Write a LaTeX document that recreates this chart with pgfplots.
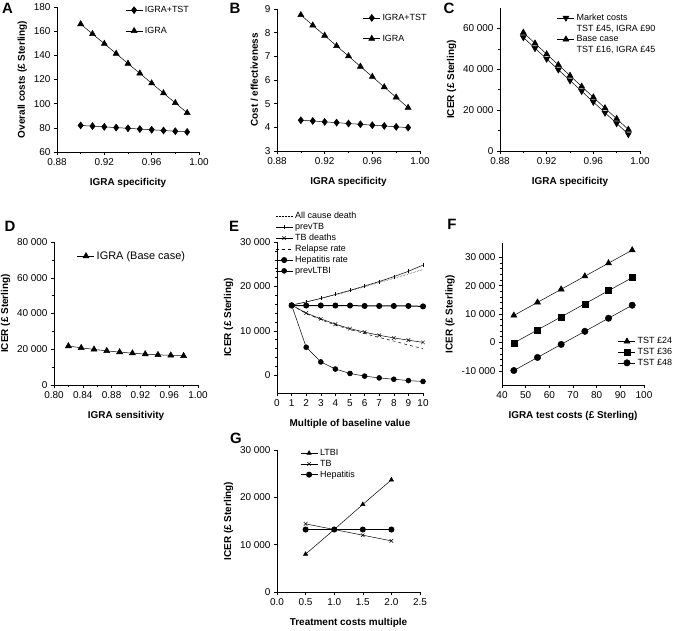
\documentclass[border=0pt]{standalone}
\usepackage{fontspec}
\setmainfont{Liberation Sans}
\usepackage{pgfplots}
\pgfplotsset{compat=1.18}

\newcommand{\tf}{\fontsize{10}{12}\selectfont}
\newcommand{\lf}{\fontsize{10}{12}\selectfont\bfseries}
\newcommand{\gf}{\fontsize{9}{10}\selectfont}
\newcommand{\pf}{\fontsize{15}{15}\selectfont\bfseries}

\pgfplotsset{
  panel/.style={
    scale only axis, anchor=south west,
    axis x line*=bottom, axis y line*=left,
    axis line style={-, line width=0.5pt},
    tick align=outside, tick style={black, line width=0.5pt},
    major tick length=3bp, minor tick length=2bp,
    tick label style={font=\tf}, label style={font=\lf},
    scaled ticks=false,
    /pgf/number format/assume math mode=true,
    /pgf/number format/1000 sep={\ },
    legend style={draw=none, fill=none, font=\gf, inner sep=0pt},
    legend cell align=left,
    clip=false,
    every axis plot/.append style={black, line width=0.5pt},
    xlabel style={yshift=-6bp},
  },
  spec/.style={xmin=0.88, xmax=1.0, xtick={0.88,0.92,0.96,1.00}, minor x tick num=1,
    x tick label style={/pgf/number format/fixed, /pgf/number format/fixed zerofill, /pgf/number format/precision=2},
    xlabel={IGRA specificity}},
}

\begin{document}
\begin{tikzpicture}
\useasboundingbox (0,0) rectangle (677bp,-631bp);

% A
\begin{axis}[panel, spec, at={(57bp,-152bp)}, width=142bp, height=145bp,
  ymin=60, ymax=180, ytick={60,80,...,180},
  ylabel={Overall costs (£ Sterling)},
  legend style={at={(0.48,1.02)}, anchor=north west, row sep=9bp}]
\addplot[mark=diamond*, mark size=3.5bp] coordinates {
 (0.90,82.0) (0.91,81.4) (0.92,80.8) (0.93,80.2) (0.94,79.6) (0.95,79.0) (0.96,78.4) (0.97,77.8) (0.98,77.2) (0.99,76.6)};
\addlegendentry{IGRA+TST}
\addplot[mark=triangle*, mark size=3.5bp] coordinates {
 (0.90,165.9) (0.91,157.7) (0.92,149.6) (0.93,141.4) (0.94,133.2) (0.95,125.1) (0.96,116.9) (0.97,108.7) (0.98,100.6) (0.99,92.4)};
\addlegendentry{IGRA}
\end{axis}

% B
\begin{axis}[panel, spec, at={(277bp,-151bp)}, width=143bp, height=142bp,
  ymin=3, ymax=9, ytick={3,...,9},
  ylabel={Cost / effectiveness},
  legend style={at={(0.60,0.98)}, anchor=north west, row sep=9bp}]
\addplot[mark=diamond*, mark size=3.5bp] coordinates {
 (0.90,4.30) (0.91,4.27) (0.92,4.23) (0.93,4.20) (0.94,4.16) (0.95,4.13) (0.96,4.09) (0.97,4.06) (0.98,4.02) (0.99,3.99)};
\addlegendentry{IGRA+TST}
\addplot[mark=triangle*, mark size=3.5bp] coordinates {
 (0.90,8.75) (0.91,8.31) (0.92,7.88) (0.93,7.44) (0.94,7.01) (0.95,6.57) (0.96,6.14) (0.97,5.70) (0.98,5.27) (0.99,4.83)};
\addlegendentry{IGRA}
\end{axis}

% C
\begin{axis}[panel, spec, at={(500bp,-151bp)}, width=140bp, height=143bp,
  ymin=0, ymax=70000, ytick={0,20000,40000,60000}, minor y tick num=1,
  ylabel={ICER (£ Sterling)},
  legend style={at={(0.407,0.975)}, anchor=north west, row sep=-1bp}]
\addplot[mark=triangle*, mark size=3.5bp, mark options={rotate=180}] coordinates {
 (0.90,55600) (0.91,50300) (0.92,45100) (0.93,39800) (0.94,34500) (0.95,29300) (0.96,24000) (0.97,18700) (0.98,13500) (0.99,8200)};
\addlegendentry{Market costs}
\addlegendimage{empty legend}
\addlegendentry{TST £45, IGRA £90}
\addplot[mark=triangle*, mark size=3.5bp] coordinates {
 (0.90,58000) (0.91,52700) (0.92,47400) (0.93,42200) (0.94,36900) (0.95,31600) (0.96,26300) (0.97,21000) (0.98,15800) (0.99,10500)};
\addlegendentry{Base case}
\addlegendimage{empty legend}
\addlegendentry{TST £16, IGRA £45}
\end{axis}

% D
\begin{axis}[panel, at={(54bp,-385bp)}, width=144bp, height=143bp,
  xmin=0.80, xmax=1.0, xtick={0.80,0.84,...,1.00}, minor x tick num=1,
  x tick label style={/pgf/number format/fixed, /pgf/number format/fixed zerofill, /pgf/number format/precision=2},
  xlabel={IGRA sensitivity},
  ymin=0, ymax=80000, ytick={0,20000,...,80000}, minor y tick num=1,
  ylabel={ICER (£ Sterling)},
  legend style={at={(0.16,0.95)}, anchor=north west, font=\fontsize{11}{12}\selectfont}]
\addplot[mark=triangle*, mark size=3.5bp] coordinates {
 (0.8200,21800) (0.8378,20800) (0.8556,19900) (0.8733,19100) (0.8911,18400) (0.9089,17800) (0.9267,17300) (0.9444,16900) (0.9622,16600) (0.9800,16300)};
\addlegendentry{IGRA (Base case)}
\end{axis}

% E
\begin{axis}[panel, at={(277bp,-393bp)}, width=146bp, height=151bp,
  xmin=0, xmax=10, xtick={0,...,10},
  xlabel={Multiple of baseline value},
  ymin=-4000, ymax=30000, ytick={0,10000,20000,30000}, minor y tick num=4,
  ylabel={ICER (£ Sterling)},
  legend style={at={(-0.014,1.21)}, anchor=north west, row sep=-1bp}]
\addplot[densely dotted] coordinates {
 (1,15800) (2,16500) (3,17300) (4,18100) (5,19000) (6,19900) (7,20900) (8,21800) (9,22800) (10,23800)};
\addlegendentry{All cause death}
\addplot[mark=|, mark size=2bp] coordinates {
 (1,15800) (2,16500) (3,17300) (4,18200) (5,19100) (6,20100) (7,21100) (8,22200) (9,23400) (10,24800)};
\addlegendentry{prevTB}
\addplot[mark=x, mark size=2.5bp] coordinates {
 (1,15800) (2,14000) (3,12700) (4,11500) (5,10500) (6,9700) (7,9000) (8,8400) (9,7900) (10,7400)};
\addlegendentry{TB deaths}
\addplot[dashed] coordinates {
 (1,15800) (2,13900) (3,12500) (4,11300) (5,10300) (6,9400) (7,8500) (8,7700) (9,6800) (10,6000)};
\addlegendentry{Relapse rate}
\addplot[mark=*, mark size=2.5bp, line width=1pt] coordinates {
 (1,15700) (2,15700) (3,15700) (4,15700) (5,15700) (6,15600) (7,15600) (8,15600) (9,15600) (10,15500)};
\addlegendentry{Hepatitis rate}
\addplot[mark=*, mark size=2.5bp] coordinates {
 (1,15800) (2,6300) (3,3000) (4,1400) (5,400) (6,-200) (7,-600) (8,-900) (9,-1200) (10,-1400)};
\addlegendentry{prevLTBI}
\end{axis}

% F
\begin{axis}[panel, at={(502bp,-385bp)}, width=142bp, height=142bp,
  xmin=40, xmax=100, xtick={40,50,...,100},
  xlabel={IGRA test costs (£ Sterling)},
  ymin=-15000, ymax=35000, ytick={-10000,0,10000,20000,30000}, minor y tick num=4,
  ylabel={ICER (£ Sterling)},
  legend style={at={(0.817,0.35)}, anchor=north west, row sep=-1bp}]
\addplot[mark=triangle*, mark size=3.5bp] coordinates {
 (45,9500) (55,14100) (65,18700) (75,23300) (85,27900) (95,32500)};
\addlegendentry{TST £24}
\addplot[mark=square*, mark size=3bp] coordinates {
 (45,-200) (55,4400) (65,9000) (75,13600) (85,18200) (95,22800)};
\addlegendentry{TST £36}
\addplot[mark=*, mark size=3.2bp] coordinates {
 (45,-9900) (55,-5300) (65,-700) (75,3900) (85,8500) (95,13100)};
\addlegendentry{TST £48}
\end{axis}

% G
\begin{axis}[panel, at={(277bp,-592bp)}, width=143bp, height=142bp,
  xmin=0, xmax=2.5, xtick={0,0.5,...,2.5},
  x tick label style={/pgf/number format/fixed, /pgf/number format/fixed zerofill, /pgf/number format/precision=1},
  xlabel={Treatment costs multiple},
  ymin=0, ymax=30000, ytick={0,10000,20000,30000},
  ylabel={ICER (£ Sterling)},
  legend style={at={(0.16,1.02)}, anchor=north west, row sep=-1bp}]
\addplot[mark=triangle*, mark size=2.5bp] coordinates {
 (0.5,8000) (1.0,13200) (1.5,18500) (2.0,23700)};
\addlegendentry{LTBI}
\addplot[mark=x, mark size=2.5bp] coordinates {
 (0.5,14400) (1.0,13200) (1.5,12000) (2.0,10800)};
\addlegendentry{TB}
\addplot[mark=*, mark size=2.5bp, line width=1pt] coordinates {
 (0.5,13200) (1.0,13200) (1.5,13200) (2.0,13200)};
\addlegendentry{Hepatitis}
\end{axis}

\node[font=\pf] at (7.5bp,-8bp) {A};
\node[font=\pf] at (235bp,-8bp) {B};
\node[font=\pf] at (449bp,-8bp) {C};
\node[font=\pf] at (10bp,-226bp) {D};
\node[font=\pf] at (234bp,-226bp) {E};
\node[font=\pf] at (452bp,-224bp) {F};
\node[font=\pf] at (236bp,-438bp) {G};
\end{tikzpicture}
\end{document}
